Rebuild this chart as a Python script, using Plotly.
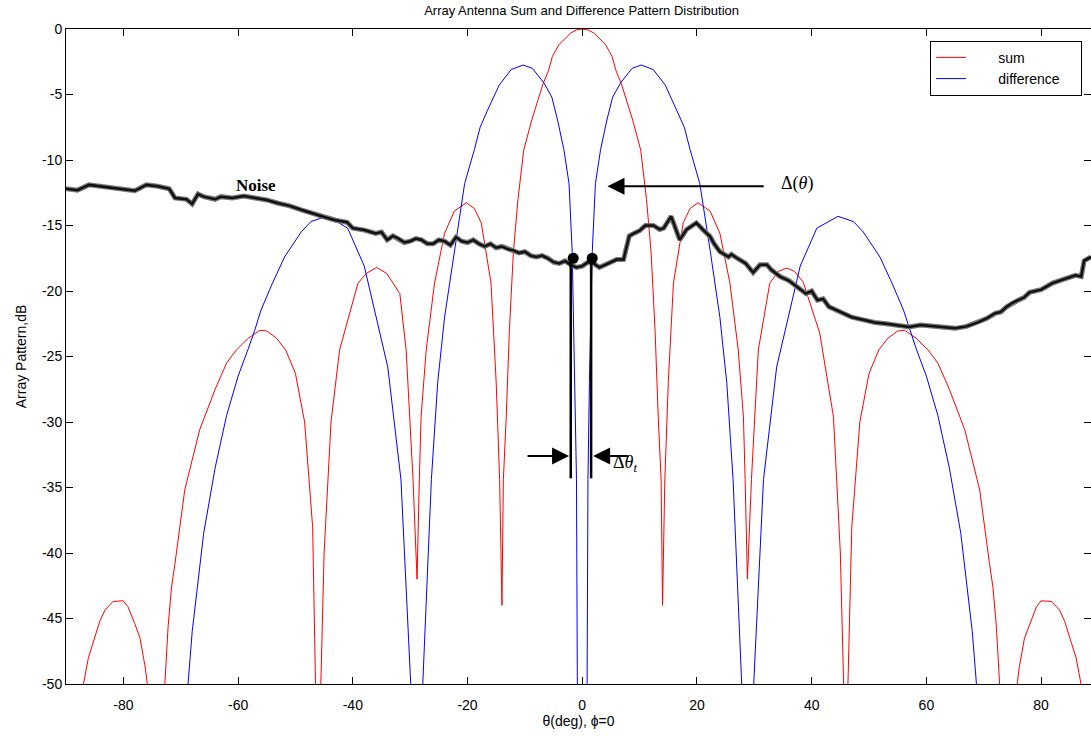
import plotly.graph_objects as go

# ---------------- data ----------------
sum_x = [-89, -88, -87.0, -86.1, -85.3, -84.1, -83.2, -81.8, -80.0, -79.2, -78.0, -77.1, -76.2, -75.8, -74.3,
         -72.8, -72.2, -71.6, -71.0, -69.3, -66.7, -64.0, -62.0, -60.3, -58.2, -56.2, -55.0, -53.3, -51.7,
         -50.0, -48.4, -47.0, -46.3, -46.0, -45.6, -45.0, -43.8, -42.3, -39.1, -37.6, -35.85, -34.1, -31.8,
         -30.7, -29.5, -28.8, -28.4, -28.1, -27.2, -25.75, -24.0, -22.3, -20.2, -18.8, -17.6, -15.9, -15.0,
         -14.4, -14.0, -13.75, -13.25, -12.7, -12.0, -11.2, -10.2, -8.8, -7.7, -6.8, -5.9, -5.2, -4.1, -2.8,
         -2.0, -1.0, 0.0,
         1.0, 2.0, 2.8, 4.1, 5.2, 5.9, 6.8, 7.7, 8.8, 10.2, 11.2, 12.0, 12.7, 13.25, 13.75, 14.0, 14.4, 15.0,
         15.9, 17.6, 18.8, 20.2, 22.3, 24.0, 25.75, 27.2, 28.1, 28.4, 28.8, 29.5, 30.7, 32.7, 34.2, 35.7, 37.0,
         38.5, 41.4, 43.8, 45.0, 45.6, 46.0, 46.3, 47.0, 48.4, 50.0, 51.7, 53.3, 55.0, 56.2, 58.2, 60.3, 62.0,
         64.0, 66.7, 69.3, 71.0, 71.6, 72.2, 72.8, 74.3, 75.8, 76.2, 77.1, 78.0, 79.2, 80.0, 81.8, 83.2, 84.1,
         85.3, 86.1, 87.0, 88.0, 89.0]
sum_db = [-56, -53.0, -50.1, -48.0, -46.9, -45.2, -44.35, -43.7, -43.65, -44.1, -45.4, -46.5, -48.7, -50.1, -62.0,
          -50.1, -45.6, -42.6, -40.8, -35.2, -30.6, -27.5, -25.5, -24.5, -23.6, -23.0, -23.05, -23.6, -24.5,
          -26.3, -30.0, -38.0, -50.5, -62.0, -50.5, -40.0, -30.0, -24.5, -19.4, -18.65, -18.2, -18.65, -20.2,
          -24.5, -34.4, -42.0, -34.4, -29.6, -24.5, -19.4, -15.6, -13.9, -13.26, -13.7, -14.8, -19.4, -27.0,
          -34.4, -44.0, -34.4, -29.6, -23.0, -17.0, -13.0, -9.24, -6.95, -5.4, -4.15, -3.2, -2.1, -1.22, -0.63,
          -0.3, -0.07, 0.0,
          -0.07, -0.3, -0.63, -1.22, -2.1, -3.2, -4.15, -5.4, -6.95, -9.24, -13.0, -17.0, -23.0, -29.6, -34.4,
          -44.0, -34.4, -27.0, -19.4, -14.8, -13.7, -13.26, -13.9, -15.6, -19.4, -24.5, -29.6, -34.4, -42.0,
          -34.4, -24.5, -19.4, -18.5, -18.25, -18.5, -19.3, -23.2, -29.6, -40.0, -50.5, -62.0, -50.5, -38.0,
          -30.0, -26.3, -24.5, -23.6, -23.05, -23.0, -23.6, -24.5, -25.5, -27.5, -30.6, -35.2, -40.8, -42.6,
          -45.6, -50.1, -62.0, -50.1, -48.7, -46.5, -45.4, -44.1, -43.65, -43.7, -44.35, -45.2, -46.9, -48.0,
          -50.1, -53.0, -56.0]

diff_x = [-70.0, -68.8, -68.0, -66.0, -64.0, -62.0, -60.0, -58.3, -57.1, -56.0, -54.0, -51.9, -49.0, -47.3,
          -44.6, -43.8, -40.9, -38.0, -36.2, -33.9, -31.6, -29.9, -28.8, -27.8, -26.3, -25.2, -24.0, -22.3,
          -20.5, -18.8, -17.8, -16.5, -14.5, -12.4, -10.3, -8.7, -6.7, -5.3, -4.3, -3.2, -2.3, -1.75, -1.25,
          -1.0, -0.85, 0.0,
          0.85, 1.0, 1.25, 1.75, 2.3, 3.2, 4.3, 5.3, 6.7, 8.7, 10.3, 12.4, 14.5, 16.5, 17.8, 18.8, 20.5, 22.3,
          24.0, 25.2, 26.3, 27.8, 28.8, 29.9, 31.6, 33.9, 36.2, 38.0, 40.9, 43.8, 44.6, 47.3, 49.0, 51.9, 54.0,
          56.0, 57.1, 58.3, 60.0, 62.0, 64.0, 66.0, 68.0, 68.8, 70.0]
diff_db = [-57.0, -50.0, -46.0, -38.5, -33.5, -29.5, -26.5, -24.5, -23.0, -21.45, -19.4, -17.4, -15.5, -14.7,
           -14.3, -14.45, -15.2, -18.1, -21.5, -25.8, -34.4, -50.0, -70.0, -50.0, -34.4, -27.0, -22.0, -16.9,
           -11.8, -9.2, -7.5, -6.2, -4.3, -3.1, -2.75, -3.0, -4.1, -5.2, -6.95, -9.2, -11.8, -17.0, -27.0,
           -34.4, -50.0, -80.0,
           -50.0, -34.4, -27.0, -17.0, -11.8, -9.2, -6.95, -5.2, -4.1, -3.0, -2.75, -3.1, -4.3, -6.2, -7.5, -9.2,
           -11.8, -16.9, -22.0, -27.0, -34.4, -50.0, -70.0, -50.0, -34.4, -25.8, -21.5, -18.1, -15.2, -14.45,
           -14.3, -14.7, -15.5, -17.4, -19.4, -21.45, -23.0, -24.5, -26.5, -29.5, -33.5, -38.5, -46.0, -50.0, -57.0]

noise_x = [-90, -88, -86, -84, -82, -80, -78, -76, -74, -72, -71, -69, -68, -67, -66, -64, -63, -61, -59, -57,
           -55, -53, -51, -49, -47, -45, -43, -41, -40, -38, -36, -35, -34, -33, -32, -31, -30, -29, -28, -27,
           -26, -25, -24, -23, -22, -21, -20, -19, -18, -17, -16, -15, -14, -13, -12, -11, -10, -9, -8, -7, -6,
           -5, -4, -3, -2, -1, 0, 1, 2, 3, 4, 5, 6, 7.2, 8.2, 9, 10, 11, 12.4, 13.5, 14.2, 15.5,
           16.3, 17, 18.2, 19.9, 21, 22.3, 23, 24, 25.5, 26, 27, 28.5, 29.8, 31, 32.2, 33, 34.5, 36, 37.5, 39, 40,
           41, 42, 43, 45, 47, 49, 51, 53, 55, 57, 59, 61, 63, 65, 67, 69, 70.5, 72, 73, 74, 75, 76, 77, 78, 80,
           82, 84, 86, 87, 87.5, 88.7]
noise_db = [-12.2, -12.3, -11.9, -12.0, -12.1, -12.2, -12.35, -11.9, -12.0, -12.2, -12.9, -13.0, -13.35, -12.6,
            -12.8, -13.0, -12.8, -12.9, -12.75, -12.9, -13.05, -13.3, -13.5, -13.8, -14.1, -14.35, -14.6, -14.75,
            -15.2, -15.35, -15.6, -15.5, -16.1, -15.8, -16.0, -16.3, -16.2, -16.0, -16.1, -16.4, -16.4, -16.1,
            -16.2, -16.5, -15.9, -16.2, -16.3, -16.1, -16.4, -16.6, -16.4, -16.7, -16.6, -16.8, -16.9, -17.1,
            -17.0, -17.3, -17.4, -17.3, -17.5, -17.8, -17.9, -17.7, -18.0, -18.2, -18.1, -17.8, -17.9, -18.2,
            -18.0, -17.8, -17.6, -17.6, -15.8, -15.6, -15.4, -15.0, -15.0, -15.3, -15.2, -14.3, -15.2, -16.1,
            -15.3, -14.8, -15.3, -15.85, -16.4, -17.0, -17.4, -17.2, -17.5, -17.9, -18.6, -18.0, -18.0, -18.4,
            -18.9, -19.2, -19.7, -20.2, -20.0, -20.7, -20.6, -21.2, -21.6, -22.0, -22.2, -22.4, -22.5, -22.6,
            -22.75, -22.6, -22.7, -22.8, -22.85, -22.7, -22.4, -22.1, -21.7, -21.6, -21.2, -20.9, -20.7, -20.5,
            -20.1, -19.9, -19.4, -19.1, -18.8, -18.9, -17.7, -17.4]

# crossing points of the difference pattern with the noise, and the drop lines below them
dot_x = [-1.57, 1.74]
dot_db = [-17.5, -17.5]
drop_left_x = [-2.0, -2.0]
drop_right_x = [1.55, 1.55]
drop_db = [-17.5, -34.3]

x_ticks = [-80, -60, -40, -20, 0, 20, 40, 60, 80]
x_tick_text = ["-80", "-60", "-40", "-20", "0", "20", "40", "60", "80"]
y_ticks = [0, -5, -10, -15, -20, -25, -30, -35, -40, -45, -50]
y_tick_text = ["0", "-5", "-10", "-15", "-20", "-25", "-30", "-35", "-40", "-45", "-50"]

SANS = "Liberation Sans, Arial, Helvetica, sans-serif"
SERIF = "Liberation Serif, Times New Roman, serif"
NB = "\u00a0"

fig = go.Figure()
fig.add_trace(go.Scatter(x=sum_x, y=sum_db, mode="lines", name=NB * 7 + "sum",
                         line=dict(color="#ff0000", width=1)))
fig.add_trace(go.Scatter(x=diff_x, y=diff_db, mode="lines", name=NB * 7 + "difference" + NB * 4,
                         line=dict(color="#0000ff", width=1)))
fig.add_trace(go.Scatter(x=noise_x, y=noise_db, mode="lines", showlegend=False,
                         line=dict(color="#7a7a7a", width=5)))
fig.add_trace(go.Scatter(x=noise_x, y=noise_db, mode="lines", showlegend=False,
                         line=dict(color="#111111", width=2.5)))
for xs in (drop_left_x, drop_right_x):
    fig.add_trace(go.Scatter(x=xs, y=drop_db, mode="lines", showlegend=False,
                             line=dict(color="black", width=2.5)))
fig.add_trace(go.Scatter(x=dot_x, y=dot_db, mode="markers", showlegend=False,
                         marker=dict(color="black", size=11)))

ann = []
# Delta(theta) arrow
ann.append(dict(x=4.4, y=-12.0, ax=31.9, ay=-12.0, xref="x", yref="y", axref="x", ayref="y",
                text="", showarrow=True, arrowhead=2, arrowsize=1.7, arrowwidth=2, arrowcolor="black"))
ann.append(dict(x=37.4, y=-11.8, xref="x", yref="y", text="Δ(<i>θ</i>)", showarrow=False,
                font=dict(family=SERIF, size=18, color="black")))
# Delta theta_t arrows
ann.append(dict(x=-2.3, y=-32.6, ax=-9.8, ay=-32.6, xref="x", yref="y", axref="x", ayref="y",
                text="", showarrow=True, arrowhead=2, arrowsize=1.7, arrowwidth=2, arrowcolor="black"))
ann.append(dict(x=1.9, y=-32.6, ax=8.3, ay=-32.6, xref="x", yref="y", axref="x", ayref="y",
                text="", showarrow=True, arrowhead=2, arrowsize=1.7, arrowwidth=2, arrowcolor="black"))
ann.append(dict(x=7.4, y=-33.2, xref="x", yref="y", text="Δ<i>θ</i><sub><i>t</i></sub>", showarrow=False,
                font=dict(family=SERIF, size=18, color="black")))
ann.append(dict(x=-56.9, y=-11.95, xref="x", yref="y", text="<b>Noise</b>", showarrow=False,
                font=dict(family=SERIF, size=17, color="black")))

fig.update_layout(
    width=1091, height=736,
    margin=dict(l=66, r=0, t=29, b=52),
    paper_bgcolor="white", plot_bgcolor="white",
    font=dict(family=SANS, size=14, color="black"),
    title=dict(text="Array Antenna Sum and Difference Pattern Distribution",
               x=0.503, xanchor="center", xref="paper", y=0.986, yanchor="middle",
               font=dict(family=SANS, size=13, color="black")),
    showlegend=True,
    legend=dict(x=0.843, y=0.982, xanchor="left", yanchor="top", bgcolor="white",
                bordercolor="black", borderwidth=1, font=dict(family=SANS, size=14)),
    annotations=ann,
)
fig.update_xaxes(range=[-90, 88.7], tickvals=x_ticks, ticktext=x_tick_text, ticks="inside", ticklen=7,
                 tickcolor="black", ticklabelstandoff=8,
                 showline=True, linecolor="black", linewidth=1, mirror="ticks", showgrid=False,
                 zeroline=False, title=dict(text="θ(deg), ϕ=0", font=dict(size=14), standoff=3))
fig.update_yaxes(range=[-50, 0], tickvals=y_ticks, ticktext=y_tick_text, ticks="inside", ticklen=7,
                 tickcolor="black",
                 showline=True, linecolor="black", linewidth=1, mirror="ticks", showgrid=False,
                 zeroline=False, title=dict(text="Array Pattern,dB", font=dict(size=14), standoff=12))

fig.write_html("out.html", config={"displayModeBar": False},
               post_script="document.body.style.margin='0';document.body.style.overflow='hidden';")
